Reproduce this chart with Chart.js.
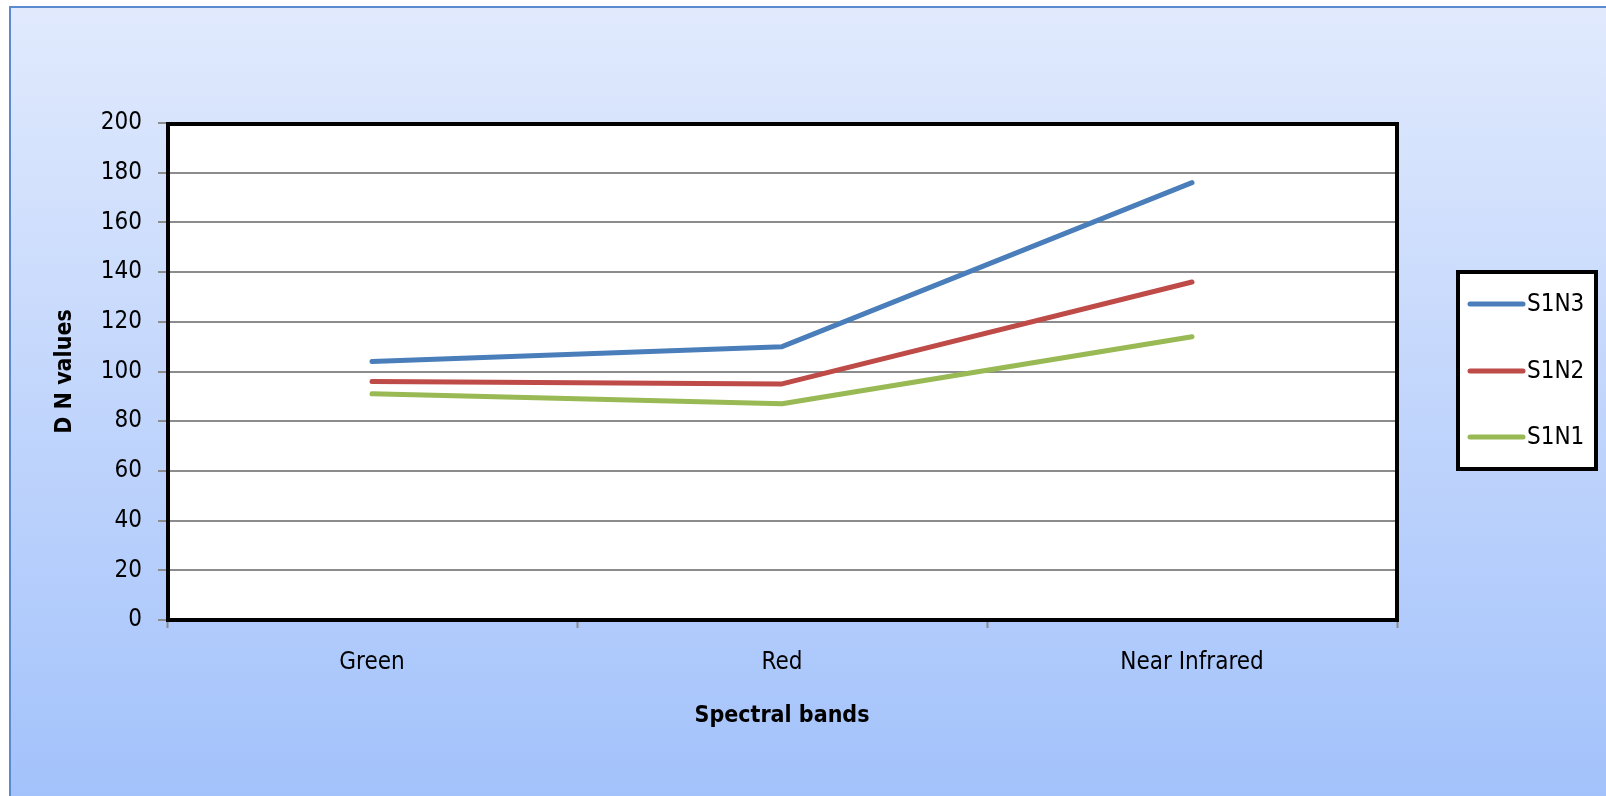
<!DOCTYPE html>
<html>
<head>
<meta charset="utf-8">
<title>DN values by spectral band</title>
<script src="https://cdn.jsdelivr.net/npm/chart.js@4.4.1/dist/chart.umd.min.js"></script>
<style>
  html, body { margin: 0; padding: 0; background: #fff; }
  #wrap { position: relative; width: 1606px; height: 796px; }
</style>
</head>
<body>
<div id="wrap"><canvas id="dnChart" width="1606" height="796"></canvas></div>
<script>
// Band names along the x axis
const bands = ['Green', 'Red', 'Near Infrared'];

// DN values per sample, one value per band
const s1n3 = [104, 110, 176];
const s1n2 = [96, 95, 136];
const s1n1 = [91, 87, 114];

const seriesNames = ['S1N3', 'S1N2', 'S1N1'];
const seriesColors = ['#4a7ebb', '#be4b48', '#98b954'];

// y axis ticks
const yMin = 0;
const yMax = 200;
const yStep = 20;

const FONT = '"DejaVu Sans Condensed", "Liberation Sans", sans-serif';

// Gradient panel behind everything, white plot area
const backdrop = {
    id: 'backdrop',
    beforeDraw(chart) {
        const c = chart.ctx;
        const { width, height, chartArea } = chart;
        c.save();
        c.fillStyle = '#ffffff';
        c.fillRect(0, 0, width, height);
        const g = c.createLinearGradient(0, 7, 0, height);
        g.addColorStop(0, '#e1eafd');
        g.addColorStop(1, '#a3c2fb');
        c.fillStyle = g;
        c.fillRect(10, 7, width - 10, height - 7);
        // panel edge
        c.strokeStyle = '#5b8ad0';
        c.lineWidth = 2;
        c.beginPath();
        c.moveTo(10, height);
        c.lineTo(10, 7);
        c.lineTo(width, 7);
        c.stroke();
        c.fillStyle = '#ffffff';
        c.fillRect(chartArea.left, chartArea.top, chartArea.right - chartArea.left, chartArea.bottom - chartArea.top);
        c.restore();
    }
};

// Heavy black frame round the plot area
const plotFrame = {
    id: 'plotFrame',
    afterDatasetsDraw(chart) {
        const c = chart.ctx;
        const a = chart.chartArea;
        c.save();
        c.strokeStyle = '#000000';
        c.lineWidth = 4;
        c.strokeRect(a.left + 1, a.top + 1, a.right - a.left - 1, a.bottom - a.top - 1);
        c.restore();
    }
};

// Boxed legend on the right
const boxLegend = {
    id: 'boxLegend',
    afterDraw(chart) {
        const c = chart.ctx;
        const box = { x: 1458, y: 272, w: 138, h: 197 };
        const rows = [304, 371, 437];
        c.save();
        c.fillStyle = '#ffffff';
        c.fillRect(box.x, box.y, box.w, box.h);
        c.strokeStyle = '#000000';
        c.lineWidth = 4;
        c.strokeRect(box.x, box.y, box.w, box.h);
        chart.data.datasets.forEach((ds, i) => {
            const y = rows[i];
            c.strokeStyle = ds.borderColor;
            c.lineWidth = 5;
            c.lineCap = 'round';
            c.beginPath();
            c.moveTo(1470, y);
            c.lineTo(1523, y);
            c.stroke();
            c.fillStyle = '#000000';
            c.font = '24px ' + FONT;
            c.textBaseline = 'middle';
            c.textAlign = 'left';
            c.fillText(ds.label, 1527, y + 1);
        });
        c.restore();
    }
};

const ctx = document.getElementById('dnChart').getContext('2d');
const dnChart = new Chart(ctx, {
    type: 'line',
    data: {
        labels: bands,
        datasets: [s1n3, s1n2, s1n1].map((vals, i) => ({
            label: seriesNames[i],
            data: vals,
            borderColor: seriesColors[i],
            backgroundColor: seriesColors[i],
            borderWidth: 5,
            borderCapStyle: 'round',
            borderJoinStyle: 'round',
            pointRadius: 0,
            tension: 0,
            fill: false
        }))
    },
    options: {
        responsive: false,
        animation: false,
        devicePixelRatio: 1,
        layout: { padding: { left: 0, right: 209, top: 123, bottom: 0 } },
        plugins: {
            legend: { display: false },
            tooltip: { enabled: false }
        },
        scales: {
            x: {
                offset: true,
                grid: {
                    offset: true,
                    drawOnChartArea: false,
                    drawTicks: true,
                    tickLength: 8,
                    tickColor: '#8c8c8c',
                    tickWidth: 2
                },
                border: { color: '#8c8c8c', width: 2 },
                ticks: { color: '#000', padding: 20, font: { family: FONT, size: 24 } },
                title: {
                    display: true,
                    text: 'Spectral bands',
                    color: '#000',
                    font: { family: FONT, size: 23, weight: 'bold' },
                    padding: { top: 0, bottom: 66 }
                },
                afterFit(scale) { scale.height = 176; }
            },
            y: {
                min: yMin,
                max: yMax,
                ticks: {
                    stepSize: yStep,
                    color: '#000',
                    padding: 16,
                    font: { family: FONT, size: 24 }
                },
                grid: {
                    color: '#8c8c8c',
                    lineWidth: 2,
                    tickLength: 9,
                    tickColor: '#8c8c8c'
                },
                border: { color: '#8c8c8c', width: 2 },
                title: {
                    display: true,
                    text: 'D N values',
                    color: '#000',
                    font: { family: FONT, size: 23, weight: 'bold' },
                    padding: { top: 51, bottom: 0 }
                },
                afterFit(scale) { scale.width = 167; }
            }
        }
    },
    plugins: [backdrop, plotFrame, boxLegend]
});
</script>
</body>
</html>
